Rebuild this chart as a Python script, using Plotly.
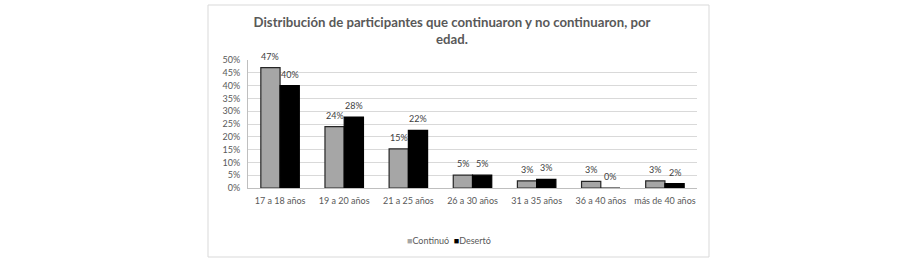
import plotly.graph_objects as go

categories = ["17 a 18 años", "19 a 20 años", "21 a 25 años", "26 a 30 años",
              "31 a 35 años", "36 a 40 años", "más de 40 años"]
continuo = [0.47, 0.24, 0.153, 0.05, 0.028, 0.026, 0.028]
deserto = [0.40, 0.277, 0.225, 0.05, 0.034, 0.0, 0.017]
continuo_labels = ["47%", "24%", "15%", "5%", "3%", "3%", "3%"]
deserto_labels = ["40%", "28%", "22%", "5%", "3%", "0%", "2%"]
series_names = ["Continuó", "Desertó"]
series_colors = ["#a6a6a6", "#000000"]

FONT = "Lato"
W, H = 905, 262
L, R, T, B = 248, 697, 60, 188
BARGAP = 0.4

fig = go.Figure()
fig.add_trace(go.Bar(
    name=series_names[0], x=categories, y=continuo,
    marker=dict(color=series_colors[0], line=dict(color="#262626", width=1.2)),
))
fig.add_trace(go.Bar(
    name=series_names[1], x=categories, y=deserto,
    marker=dict(color=series_colors[1], line=dict(color="#000000", width=1.2)),
))

pw = R - L
ph = B - T
def px(x):
    return (x - L) / pw
def py(y):
    return (B - y) / ph

# bar value labels placed above each bar
bar_w = pw / len(categories) * (1 - BARGAP) / 2
annotations = []
for vals, labels, sign in ((continuo, continuo_labels, -1), (deserto, deserto_labels, 1)):
    for c, v, t in zip(categories, vals, labels):
        annotations.append(dict(
            x=c, y=v, text=t, xref="x", yref="y",
            xshift=sign * bar_w / 2, yshift=4, yanchor="bottom", xanchor="center",
            showarrow=False, font=dict(size=9, color="#404040", family=FONT),
        ))

legend_text = (
    f'<span style="color:{series_colors[0]}">■</span>{series_names[0]}  '
    f'<span style="color:{series_colors[1]}">■</span>{series_names[1]}'
)
annotations.append(dict(
    text=legend_text, xref="paper", yref="paper",
    x=px(449), y=py(240), xanchor="center", yanchor="middle",
    showarrow=False, font=dict(size=9, color="#595959", family=FONT),
))

fig.update_layout(
    width=W, height=H,
    margin=dict(l=L, r=W - R, t=T, b=H - B, pad=0, autoexpand=False),
    paper_bgcolor="white", plot_bgcolor="white",
    barmode="group", bargap=BARGAP, bargroupgap=0.0,
    font=dict(family=FONT, size=9, color="#595959"),
    title=dict(
        text="Distribución de participantes que continuaron y no continuaron, por<br>edad.",
        x=452 / W, xanchor="center", xref="container",
        y=1 - 27 / H, yanchor="top", yref="container",
        font=dict(family=FONT, size=13.2, color="#595959", weight="bold"),
    ),
    showlegend=False,
    annotations=annotations,
    shapes=[dict(
        type="rect", xref="paper", yref="paper",
        x0=px(208), x1=px(709), y0=py(257), y1=py(5),
        line=dict(color="#d9d9d9", width=1), fillcolor="rgba(0,0,0,0)",
        layer="below",
    )],
)
fig.update_yaxes(
    range=[0, 0.5], dtick=0.05, tickformat=".0%",
    showgrid=True, gridcolor="#d9d9d9", gridwidth=1,
    showline=True, linecolor="#bfbfbf", linewidth=1,
    ticks="", tickfont=dict(size=9, color="#595959"), ticklabelstandoff=5,
    zeroline=False,
)
fig.update_xaxes(
    showline=True, linecolor="#bfbfbf", linewidth=1,
    ticks="", tickfont=dict(size=9, color="#595959"), ticklabelstandoff=4,
)

fig.write_html("out.html", config={"displayModeBar": False},
               post_script="document.body.style.margin='0';")
